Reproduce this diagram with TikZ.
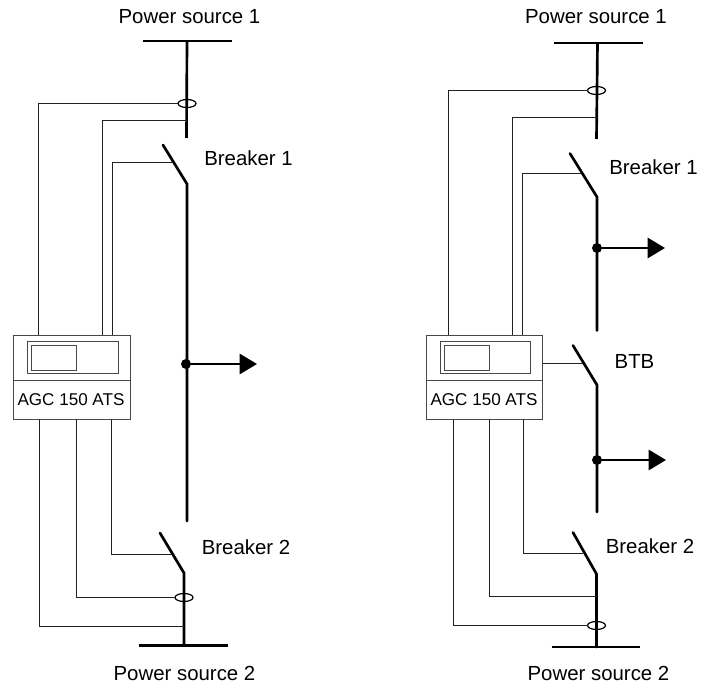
\documentclass[tikz,border=0pt]{standalone}
\usepackage{fontspec}
\setmainfont{Liberation Sans}
\usetikzlibrary{arrows.meta,shapes.geometric,calc}
\definecolor{wire}{HTML}{222222}
\tikzset{
  thinw/.style={draw=wire,line width=1.15pt},
  feeder/.style={draw=black,line width=2pt},
  bar/.style={draw=black,line width=2.2pt},
  ct/.style={ellipse,draw=black,line width=0.9pt,fill=none,minimum width=13.5pt,minimum height=6pt,inner sep=0pt,outer sep=0pt},
  junc/.style={circle,fill=black,minimum size=7.5pt,inner sep=0pt,outer sep=0pt},
  lbl/.style={font=\fontsize{15.3}{18}\selectfont,inner sep=0pt,text=black},
  agclbl/.style={font=\fontsize{12.8}{16}\selectfont,inner sep=0pt,text=black},
  panel/.style={draw=black!72,line width=1.15pt,fill=none,inner sep=0pt},
  arr/.style={draw=black,line width=2.1pt,-{Triangle[length=13pt,width=15pt]}},
}
\begin{document}
\begin{tikzpicture}[x=0.75pt,y=-0.75pt]
\useasboundingbox (0,0) rectangle (708,684);
% ---------- left ----------
\node[lbl] (lps1) at (189.5,17) {Power source 1};
\node[lbl] (lb1) at (248.5,158) {Breaker 1};
\node[lbl] (lb2) at (246,547) {Breaker 2};
\node[lbl] (lps2) at (184.5,673) {Power source 2};
\coordinate (lb1a) at (143,41); \coordinate (lb1b) at (232,41);
\coordinate (lt) at (187,41); \coordinate (ltend) at (186.5,138);
\coordinate (lsw1a) at (163,145); \coordinate (lsw1b) at (187,184);
\coordinate (lmain) at (187,521);
\coordinate (lsw2a) at (160,533); \coordinate (lsw2b) at (184,573);
\coordinate (lbot) at (184,645.5);
\coordinate (lb2a) at (139,645.5); \coordinate (lb2b) at (228,645.5);
\coordinate (lbr1) at (173,162.5); \coordinate (lbr2) at (172,554.5);
\coordinate (ltap) at (186.5,120.5); \coordinate (lbtap) at (184,626.5);
\coordinate (ltip) at (257,364);
\node[ct] (lct1) at (187,103.5) {};
\node[ct] (lct2) at (184,597.5) {};
\node[junc] (lj) at (186,364) {};
\draw[bar] (lb1a) -- (lb1b);
\draw[feeder] (lt) -- (ltend);
\draw[feeder,line cap=round] (lsw1a) -- (lsw1b) -- (lmain);
\draw[feeder,line cap=round] (lsw2a) -- (lsw2b) -- (lbot);
\draw[bar] (lb2a) -- (lb2b);
\draw[arr] (lj) -- (ltip);
% AGC box left
\node[panel,minimum width=87.75pt,minimum height=63pt] (lagc) at (72,377.5) {};
\draw[panel] (13.5,380.5) coordinate (ldl) -- (130.5,380.5) coordinate (ldr);
\node[panel,minimum width=68.25pt,minimum height=24pt] (lscr) at (73,357.5) {};
\node[panel,minimum width=33.75pt,minimum height=18.75pt] (lscri) at (54,358) {};
\node[agclbl] (lagct) at (71,400) {AGC 150 ATS};
\draw[thinw] (lct1.west) -| (38.5,335.5);
\draw[thinw] (ltap) -| (102.5,335.5);
\draw[thinw] (lbr1) -| (112.5,335.5);
\draw[thinw] (39.5,419.5) |- (lbtap);
\draw[thinw] (76.5,419.5) |- (lct2.west);
\draw[thinw] (111.5,419.5) |- (lbr2);
% ---------- right ----------
\node[lbl] (rps1) at (596,17) {Power source 1};
\node[lbl] (rb1) at (653.5,167) {Breaker 1};
\node[lbl] (rbtb) at (634.5,361) {BTB};
\node[lbl] (rb2) at (650,546) {Breaker 2};
\node[lbl] (rps2) at (598.5,673) {Power source 2};
\coordinate (rb1a) at (554,43); \coordinate (rb1b) at (643,43);
\coordinate (rt) at (597.5,43); \coordinate (rtend) at (596.5,139);
\coordinate (rsw1a) at (570,153.5); \coordinate (rsw1b) at (597,197);
\coordinate (rend1) at (597,330.5);
\coordinate (rsw3a) at (573,345.5); \coordinate (rsw3b) at (597,385);
\coordinate (rend3) at (597,512);
\coordinate (rsw2a) at (573,532.5); \coordinate (rsw2b) at (596.5,574);
\coordinate (rbot) at (596.5,647);
\coordinate (rb2a) at (551.5,647); \coordinate (rb2b) at (640,647);
\coordinate (rtap) at (596.5,117.5); \coordinate (rbr1) at (581,173.5);
\coordinate (rbr3) at (583,363.5); \coordinate (rbr2) at (583,553.5);
\coordinate (rbtap) at (596.5,596.5);
\coordinate (rtip1) at (665,248); \coordinate (rtip2) at (666,460);
\node[ct] (rct1) at (596.5,90.5) {};
\node[ct] (rct2) at (596.5,625.5) {};
\node[junc] (rj1) at (597,248) {};
\node[junc] (rj2) at (597,460) {};
\draw[bar] (rb1a) -- (rb1b);
\draw[feeder] (rt) -- (rtend);
\draw[feeder,line cap=round] (rsw1a) -- (rsw1b) -- (rend1);
\draw[feeder,line cap=round] (rsw3a) -- (rsw3b) -- (rend3);
\draw[feeder,line cap=round] (rsw2a) -- (rsw2b) -- (rbot);
\draw[bar] (rb2a) -- (rb2b);
\draw[arr] (rj1) -- (rtip1);
\draw[arr] (rj2) -- (rtip2);
% AGC box right
\node[panel,minimum width=87pt,minimum height=63pt] (ragc) at (484.5,377.5) {};
\draw[panel] (426.5,380.5) coordinate (rdl) -- (542.5,380.5) coordinate (rdr);
\node[panel,minimum width=67.5pt,minimum height=24pt] (rscr) at (485.5,357.5) {};
\node[panel,minimum width=33.75pt,minimum height=18.75pt] (rscri) at (467,358) {};
\node[agclbl] (ragct) at (484,400) {AGC 150 ATS};
\draw[thinw] (rct1.west) -| (448.5,335.5);
\draw[thinw] (rtap) -| (512.5,335.5);
\draw[thinw] (rbr1) -| (522.5,335.5);
\draw[thinw] (ragc.east |- rbr3) -- (rbr3);
\draw[thinw] (453.5,419.5) |- (rct2.west);
\draw[thinw] (489.5,419.5) |- (rbtap);
\draw[thinw] (523.5,419.5) |- (rbr2);
\end{tikzpicture}
\end{document}
